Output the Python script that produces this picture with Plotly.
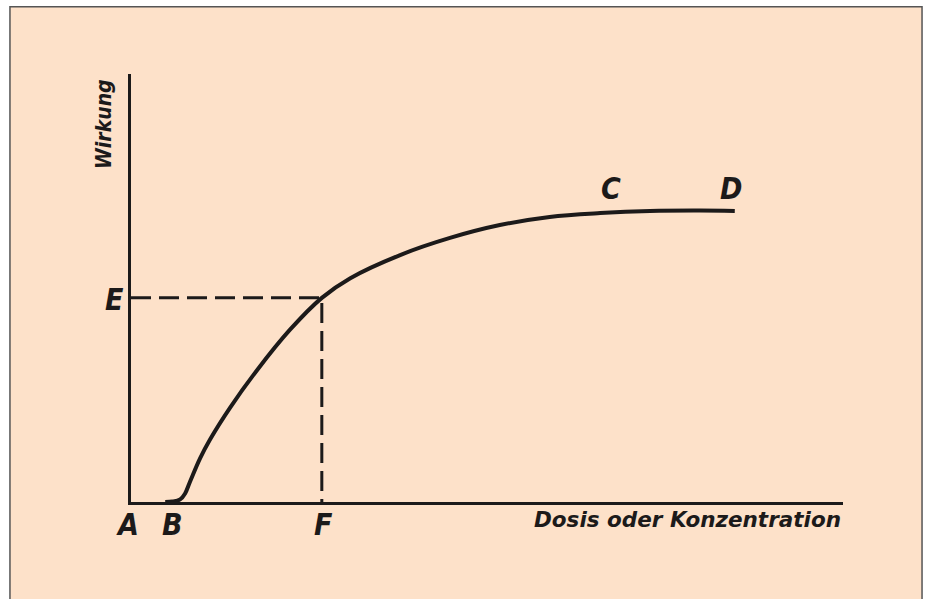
import plotly.graph_objects as go

# Dosis-Wirkungs-Kurve (arbitrary units 0..100)
dose = [4.8, 5.8, 6.9, 7.6, 8.3, 9.7, 11.1, 13.9, 17.7, 22.3, 26.8,
        30.8, 37.8, 44.8, 51.8, 58.8, 65.9, 72.9, 79.9, 84.8]
effect = [0, 0.1, 0.6, 2.0, 4.8, 10.2, 14.6, 22.0, 30.8, 40.2, 47.7,
          52.3, 57.7, 61.7, 64.7, 66.6, 67.5, 68.0, 68.1, 68.0]

f_index = 10          # point F / E on the curve
c_dose = 69.1         # where "C" sits along the plateau

x_title = "Dosis oder Konzentration"
y_title = "Wirkung"

ink = "#1c1a1a"
peach = "#FDE1C9"
hand = "Liberation Sans Narrow, DejaVu Sans Condensed, sans-serif"

fig = go.Figure()

# dashed guide lines to E and F
fig.add_trace(go.Scatter(
    x=[0, dose[f_index], dose[f_index]],
    y=[effect[f_index], effect[f_index], 0],
    mode="lines",
    line=dict(color=ink, width=3, dash="20px,8px"),
    hoverinfo="skip",
))

# the curve itself
fig.add_trace(go.Scatter(
    x=dose, y=effect,
    mode="lines",
    line=dict(color=ink, width=4, shape="spline", smoothing=1.0),
    hoverinfo="skip",
))

# frame around the figure
fig.add_shape(type="rect", xref="paper", yref="paper",
              x0=-0.170, x1=1.111, y0=-0.25, y1=1.157,
              line=dict(color="#555555", width=1.5),
              fillcolor=peach, layer="below")

letter = dict(family=hand, size=30, color=ink, style="italic", weight="bold")


def label(text, x, y, xshift=0, yshift=0):
    fig.add_annotation(x=x, y=y, text=text, showarrow=False,
                       xshift=xshift, yshift=yshift, font=letter)


label("A", 0, 0, xshift=-4, yshift=-22)
label("B", dose[0], 0, xshift=7, yshift=-22)
label("F", dose[f_index], 0, xshift=2, yshift=-22)
label("E", 0, effect[f_index], xshift=-17, yshift=-2)
label("C", c_dose, effect[-1], xshift=-12, yshift=22)
label("D", dose[-1], effect[-1], xshift=-4, yshift=22)

fig.add_annotation(x=1, y=0, xref="paper", yref="paper", text=x_title,
                   showarrow=False, xanchor="right", yanchor="top", yshift=-3,
                   font=dict(family="DejaVu Sans, sans-serif", size=21.5,
                             color=ink, style="italic", weight="bold"))
fig.add_annotation(x=0, y=1, xref="paper", yref="paper", text=y_title,
                   showarrow=False, textangle=-90, xanchor="right",
                   yanchor="top", xshift=-13, yshift=-3,
                   font=dict(family=hand, size=21, color=ink,
                             style="italic", weight="bold"))

fig.update_xaxes(range=[0, 100], showline=True, linecolor=ink, linewidth=3,
                 showgrid=False, zeroline=False, showticklabels=False,
                 ticks="")
fig.update_yaxes(range=[0, 100], showline=True, linecolor=ink, linewidth=3,
                 showgrid=False, zeroline=False, showticklabels=False,
                 ticks="")

fig.update_layout(
    width=927, height=599,
    margin=dict(l=131, r=84, t=74, b=97),
    paper_bgcolor="white",
    plot_bgcolor="rgba(0,0,0,0)",
    showlegend=False,
)

# drop the page's default body margin so the figure sits at the top-left
fig.write_html("out.html", config={"displayModeBar": False},
               post_script="document.body.style.margin='0';")
